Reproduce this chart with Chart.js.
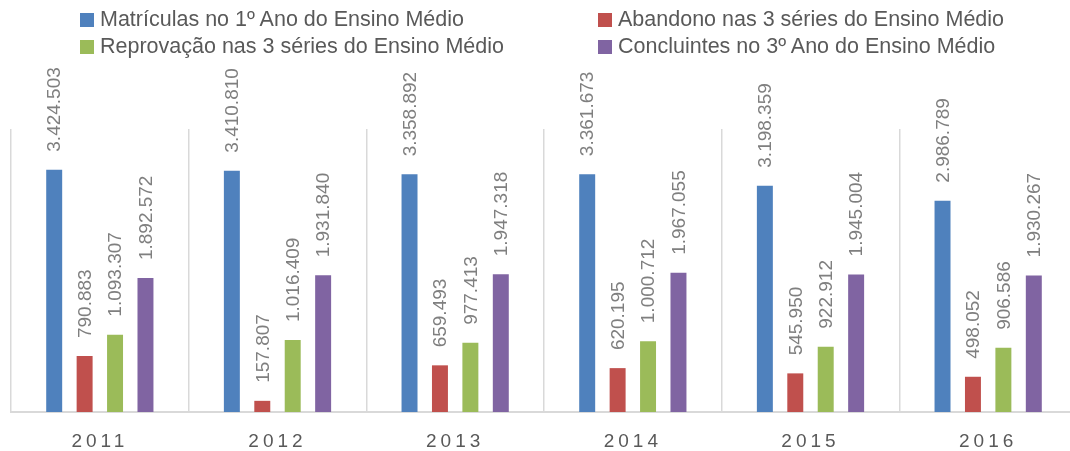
<!DOCTYPE html>
<html lang="pt-BR">
<head>
<meta charset="utf-8">
<title>Ensino Médio 2011-2016</title>
<script src="https://cdn.jsdelivr.net/npm/chart.js@4/dist/chart.umd.min.js"></script>
<style>
  html, body { margin: 0; padding: 0; background: #fff; overflow: hidden; }
  #quadro { position: relative; width: 1078px; height: 451px; }
  #legenda {
    position: absolute; left: 80px; top: 7px;
    display: grid; grid-template-columns: 518px auto; row-gap: 2px;
    font-family: "Liberation Sans", Arial, sans-serif; font-size: 21.5px; color: #595959;
  }
  #legenda div { display: flex; align-items: center; height: 25px; white-space: nowrap; }
  #legenda span.cor { width: 14px; height: 14px; margin-right: 6px; display: inline-block; }
</style>
</head>
<body>
<div id="quadro">
  <canvas id="graficoBarras"></canvas>
  <div id="legenda"></div>
</div>
<script>
const anos = ['2011', '2012', '2013', '2014', '2015', '2016'];
const matriculas = [3424503, 3410810, 3358892, 3361673, 3198359, 2986789];
const abandono = [790883, 157807, 659493, 620195, 545950, 498052];
const reprovacao = [1093307, 1016409, 977413, 1000712, 922912, 906586];
const concluintes = [1892572, 1931840, 1947318, 1967055, 1945004, 1930267];
const nomesSeries = [
  'Matrículas no 1º Ano do Ensino Médio',
  'Abandono nas 3 séries do Ensino Médio',
  'Reprovação nas 3 séries do Ensino Médio',
  'Concluintes no 3º Ano do Ensino Médio'
];
const coresSeries = ['#4f81bd', '#c0504d', '#9bbb59', '#8064a2'];

// 3424503 -> "3.424.503"
function formatar(v) {
  return String(v).replace(/\B(?=(\d{3})+(?!\d))/g, '.');
}

// rótulos verticais acima das barras
const rotuloValores = {
  id: 'rotuloValores',
  afterDatasetsDraw(chart) {
    const ctx = chart.ctx;
    ctx.save();
    ctx.letterSpacing = '0px';
    ctx.font = '19px "Liberation Sans", Arial, sans-serif';
    ctx.fillStyle = '#7f7f7f';
    ctx.textAlign = 'left';
    ctx.textBaseline = 'middle';
    chart.data.datasets.forEach((ds, i) => {
      chart.getDatasetMeta(i).data.forEach((barra, j) => {
        ctx.save();
        ctx.translate(barra.x + 1, barra.y - 18);
        ctx.rotate(-Math.PI / 2);
        ctx.fillText(formatar(ds.data[j]), 0, 0);
        ctx.restore();
      });
    });
    ctx.restore();
  }
};

// espaçamento entre letras só nos anos do eixo
const espacoAnos = {
  id: 'espacoAnos',
  beforeDraw(chart) { chart.ctx.letterSpacing = '4px'; },
  beforeDatasetsDraw(chart) { chart.ctx.letterSpacing = '0px'; }
};

const series = [matriculas, abandono, reprovacao, concluintes];

const ctx = document.getElementById('graficoBarras').getContext('2d');
new Chart(ctx, {
  type: 'bar',
  data: {
    labels: anos,
    datasets: series.map((dados, i) => ({
      label: nomesSeries[i],
      data: dados,
      backgroundColor: coresSeries[i],
      categoryPercentage: 0.685,
      barPercentage: 0.525
    }))
  },
  options: {
    responsive: true,
    maintainAspectRatio: false,
    animation: false,
    layout: { padding: { top: 129, left: 11, right: 1, bottom: 0 } },
    scales: {
      y: { display: false, min: 0, max: 4000000 },
      x: {
        afterFit: s => { s.height = 39; },
        grid: { color: '#d9d9d9', lineWidth: 1.5, drawTicks: false, offset: true },
        border: { color: '#d9d9d9', width: 2 },
        ticks: {
          color: '#595959',
          padding: 18,
          font: { family: '"Liberation Sans", Arial, sans-serif', size: 19 }
        }
      }
    },
    plugins: {
      legend: { display: false },
      tooltip: { enabled: false }
    }
  },
  plugins: [espacoAnos, rotuloValores]
});

// legenda em duas colunas
const legenda = document.getElementById('legenda');
nomesSeries.forEach((nome, i) => {
  const item = document.createElement('div');
  item.innerHTML = '<span class="cor" style="background:' + coresSeries[i] + '"></span>' + nome;
  legenda.appendChild(item);
});
</script>
</body>
</html>
